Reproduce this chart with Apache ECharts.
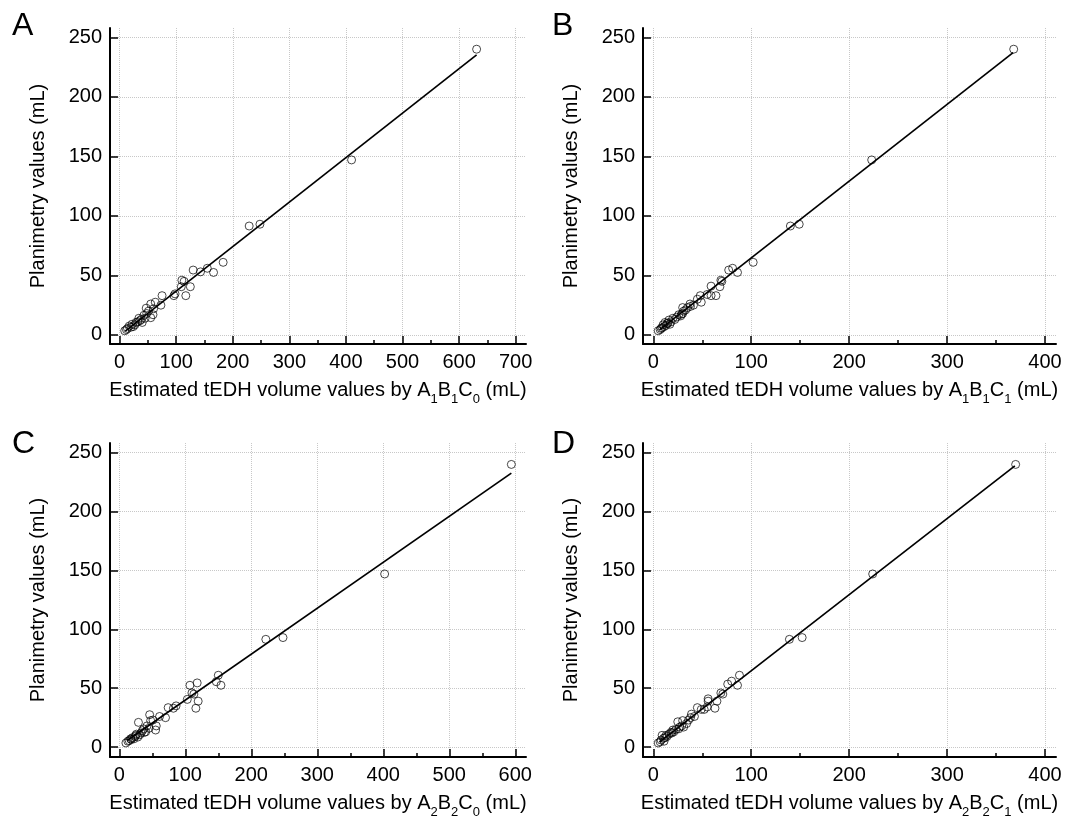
<!DOCTYPE html>
<html><head><meta charset="utf-8">
<script src="https://cdn.jsdelivr.net/npm/echarts@6/dist/echarts.min.js"></script>
<style>html,body{margin:0;padding:0;background:#fff}#c{width:1083px;height:820px}</style>
</head><body><div id="c"></div>
<script>
// ---------- data ----------
const pointsA = [[631,240],[410,147],[229,91.5],[248,93],[183,61],[166,52.5],[155,56],[143,53],[130,54.5],[110,46],[114,45],[125,40.5],[117,33],[109,40.5],[96,33],[98,34.5],[75,33],[73,25],[63,27.5],[55,26],[47,22.5],[51,20],[59,17],[55,14.5],[40,10.5],[43,16.5],[34,14],[29,10.5],[22,9],[17,7.5],[14,5.5],[9,3.5],[36,12],[27,8.5],[48,18],[60,22],[20,6.5],[32,11],[45,14],[38,13],[12,4.5],[24,7]];
const pointsB = [[368,240],[223,147],[140,91.5],[149,93],[102,61],[86,52.5],[81,56],[77,54.5],[69,46],[70,45],[68,40.5],[59,41],[64,33],[59,33],[48,33],[49,27.5],[37.5,26],[41,25],[35,23],[30,23],[30,18],[26,17],[20,14],[16,12.5],[12,10.5],[10,8.5],[5,3.5],[8,5.5],[55,34],[31,20],[28,16],[22,13],[18,11],[14,9.5],[11,7],[9,6],[24,15],[33,21],[13,8],[7,4.5],[29,17.5],[45,30],[38,24],[15,10],[17,9]];
const pointsC = [[594,240],[402,147],[222,91.5],[248,93],[150,61],[147,55.5],[154,52.5],[118,54.5],[107,52.5],[110,46],[113,45],[103,40.5],[119.5,39],[116,33],[86,35],[82,33],[74,33.5],[70,25],[61,26],[46,27.5],[29,21],[47.5,22.5],[51,23],[56,18],[55,14.5],[45,16],[37,15.5],[38,12.5],[33,12],[25,10],[22,7],[17,7],[15,5.5],[10,3.5],[28,8.5],[20,8],[35,14],[24,9],[31,10.5],[42,18],[13,5],[26,11],[40,13],[18,6.5]];
const pointsD = [[370,240],[224,147],[139,91.5],[152,93],[88,61],[86,52.5],[80,56],[76,53.5],[69,46],[71,45],[65,39],[63,33],[56,41],[56,39],[55,34],[49,32],[45,33.5],[52,32],[39,28],[42,26],[36,23],[30,22.5],[25,21.5],[29,18],[26,15.5],[20,14.5],[18,12.5],[13,10],[9,10],[10.5,7.5],[8,6],[5,3.5],[31,17],[23,15],[16,11],[12,8],[34,20],[27,17],[14,9],[21,13],[11,5],[7,4.5],[19,12],[38,25]];
const fitA = [[10,3.2],[631,235.2]];
const fitB = [[6.3,4.2],[367.4,237.1]];
const fitC = [[12,5.6],[594,232.6]];
const fitD = [[6.3,4.2],[369.2,238.8]];
const xTicks700 = [0,100,200,300,400,500,600,700];
const xMinor700 = [50,150,250,350,450,550,650];
const xTicks600 = [0,100,200,300,400,500,600];
const xMinor600 = [50,150,250,350,450,550];
const xTicks400 = [0,100,200,300,400];
const xMinor400 = [50,150,250,350];
const yTicks = [0,50,100,150,200,250];
const panelLetters = ['A','B','C','D'];
const subsA = ['1','1','0'];
const subsB = ['1','1','1'];
const subsC = ['2','2','0'];
const subsD = ['2','2','1'];
const yTitle = 'Planimetry values (mL)';
const xTitlePrefix = 'Estimated tEDH volume values by ';

// ---------- layout ----------
const FONT = "'Liberation Sans', Arial, sans-serif";
const panels = [
  {grid:{left:110,top:28,width:416,height:316}, xr:[-17,718.3], yr:[-7.6,257.8], pts:pointsA, fit:fitA, maj:xTicks700, min:xMinor700, subs:subsA, letter:[12,10]},
  {grid:{left:643,top:28,width:413,height:316}, xr:[-10.5,411.2], yr:[-7.6,257.8], pts:pointsB, fit:fitB, maj:xTicks400, min:xMinor400, subs:subsB, letter:[552,10]},
  {grid:{left:110,top:443,width:416,height:317}, xr:[-14.1,616.2], yr:[-8.4,258.2], pts:pointsC, fit:fitC, maj:xTicks600, min:xMinor600, subs:subsC, letter:[12,428]},
  {grid:{left:643,top:443,width:413,height:317}, xr:[-10.5,411.2], yr:[-8.4,258.2], pts:pointsD, fit:fitD, maj:xTicks400, min:xMinor400, subs:subsD, letter:[552,428]}
];

const grids=[], xAxes=[], yAxes=[], series=[], graphics=[];
panels.forEach((p,i)=>{
  grids.push(Object.assign({containLabel:false}, p.grid));
  const name = '{n|' + xTitlePrefix + 'A}{s|' + p.subs[0] + '}{n|B}{s|' + p.subs[1] + '}{n|C}{s|' + p.subs[2] + '}{n| (mL)}';
  xAxes.push({
    type:'value', gridIndex:i, position:'bottom', min:p.xr[0], max:p.xr[1],
    name:name, nameLocation:'middle', nameGap:31,
    nameTextStyle:{fontSize:20, fontFamily:FONT, color:'#000',
      rich:{n:{fontSize:20, fontFamily:FONT, color:'#000'},
            s:{fontSize:13, fontFamily:FONT, color:'#000', padding:[18,0,0,0]}}},
    axisLine:{show:true, onZero:false, lineStyle:{color:'#000', width:2}},
    axisTick:{show:true, inside:true, length:8, customValues:p.maj, lineStyle:{color:'#000', width:1.5}},
    axisLabel:{customValues:p.maj, fontSize:20, fontFamily:FONT, color:'#000', margin:8},
    splitLine:{show:true, lineStyle:{color:'#c8c8c8', type:'dotted', width:1}}
  });
  xAxes.push({
    type:'value', gridIndex:i, position:'bottom', min:p.xr[0], max:p.xr[1],
    axisLine:{show:false, onZero:false},
    axisTick:{show:true, inside:true, length:4, customValues:p.min, lineStyle:{color:'#000', width:1.5}},
    axisLabel:{show:false},
    splitLine:{show:false}
  });
  yAxes.push({
    type:'value', gridIndex:i, position:'left', min:p.yr[0], max:p.yr[1],
    name:yTitle, nameLocation:'middle', nameGap:62,
    nameTextStyle:{fontSize:20, fontFamily:FONT, color:'#000'},
    axisLine:{show:true, onZero:false, lineStyle:{color:'#000', width:2}},
    axisTick:{show:true, inside:true, length:8, customValues:yTicks, lineStyle:{color:'#000', width:1.5}},
    axisLabel:{customValues:yTicks, fontSize:20, fontFamily:FONT, color:'#000', margin:8},
    splitLine:{show:true, lineStyle:{color:'#c8c8c8', type:'dotted', width:1}}
  });
  series.push({
    type:'scatter', xAxisIndex:2*i, yAxisIndex:i, data:p.pts, symbol:'circle', symbolSize:8,
    itemStyle:{color:'rgba(0,0,0,0)', borderColor:'#000', borderWidth:0.9}, silent:true, z:2
  });
  series.push({
    type:'line', xAxisIndex:2*i, yAxisIndex:i, data:p.fit, symbol:'none', silent:true,
    lineStyle:{color:'#000', width:1.7}, z:3
  });
  graphics.push({type:'text', left:p.letter[0], top:p.letter[1],
    style:{text:panelLetters[i], fontSize:32, fontFamily:FONT, fill:'#000'}});
});

const chart = echarts.init(document.getElementById('c'), null, {renderer:'canvas'});
chart.setOption({
  animation:false, backgroundColor:'#fff',
  grid:grids, xAxis:xAxes, yAxis:yAxes, series:series, graphic:graphics
});
</script></body></html>
